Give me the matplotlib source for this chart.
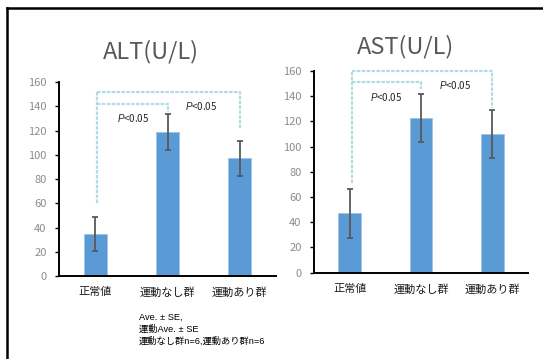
import matplotlib
matplotlib.use("Agg")
import matplotlib.pyplot as plt
from matplotlib.lines import Line2D


groups = ["正常値", "運動なし群", "運動あり群"]

alt_mean = [35, 119, 97]
alt_se = [14, 15, 14.5]

ast_mean = [47, 123, 110]
ast_se = [19.5, 19, 19]

# significance brackets: (bar index, bracket height, drop end) for each pair
alt_pairs = [(1, 142, 135), (2, 151.5, 122)]
alt_start = 60
ast_pairs = [(1, 151.5, 145.5), (2, 160, 131)]
ast_start = 71

p_label = "$P$<0.05"

plt.rcParams['font.family'] = ['Noto Sans CJK JP', 'DejaVu Sans']
plt.rcParams['mathtext.fontset'] = 'custom'
plt.rcParams['mathtext.it'] = 'Liberation Sans:italic'
plt.rcParams['mathtext.rm'] = 'Liberation Sans'

BAR = "#5b9bd5"
ERR = "#595959"
BRACKET = "#b2dce3"
W, H = 543, 359


def px_axes(fig, x0, y_top, x1, y_bottom):
    return fig.add_axes([x0 / W, 1 - y_bottom / H, (x1 - x0) / W, (y_bottom - y_top) / H])


def bar_panel(ax, title, means, errs, pairs, start, label_pos, title_xy):
    x = range(len(groups))
    ax.bar(x, means, width=0.32, color=BAR, edgecolor="#9dc3e6", linewidth=0.6, zorder=2)
    ax.errorbar(x, means, yerr=errs, fmt="none", ecolor=ERR, elinewidth=1.3,
                capsize=2, capthick=1.3, zorder=3)
    ax.set_xlim(-0.5, 2.5)
    ax.set_ylim(0, 160)
    ax.set_yticks(range(0, 161, 20))
    ax.set_xticks(list(x))
    ax.set_xticklabels(groups, fontsize=8, color="#1a1a1a")
    ax.tick_params(axis="x", length=0, pad=8)
    ax.tick_params(axis="y", length=3, width=1, direction="out", labelsize=8,
                   labelcolor="#8c8c8c", pad=6)
    for s in ("top", "right"):
        ax.spines[s].set_visible(False)
    for s in ("left", "bottom"):
        ax.spines[s].set_linewidth(1.4)
        ax.spines[s].set_color("black")

    # dashed brackets from the control bar to each group
    x0 = 0.03
    top = max(p[1] for p in pairs)
    dash = (0, (1.6, 0.6))
    ax.plot([x0, x0], [start, top], color=BRACKET, lw=1.6, ls=dash,
            clip_on=False, zorder=1)
    for idx, level, end in pairs:
        ax.plot([x0, idx, idx], [level, level, end], color=BRACKET, lw=1.6,
                ls=dash, clip_on=False, zorder=1)
    for lx, ly in label_pos:
        ax.text(lx, ly, p_label, fontsize=7, ha="center", va="center", color="#262626")

    ax.text(title_xy[0], title_xy[1], title, transform=ax.figure.transFigure,
            fontsize=17, color="#595959", ha="center", va="center")


fig = plt.figure(figsize=(W / 100, H / 100), dpi=100)

ax1 = px_axes(fig, 59, 82, 276, 276)
bar_panel(ax1, "ALT(U/L)", alt_mean, alt_se, alt_pairs, alt_start,
          [(0.52, 130), (1.47, 140)], (151 / W, 1 - 52 / H))

ax2 = px_axes(fig, 314, 71, 528, 272.7)
bar_panel(ax2, "AST(U/L)", ast_mean, ast_se, ast_pairs, ast_start,
          [(0.51, 139), (1.48, 149)], (406 / W, 1 - 47 / H))

# outer frame
fig.add_artist(Line2D([7 / W, 7 / W], [0, 1 - 8 / H], color="black", lw=1.8))
fig.add_artist(Line2D([7 / W, 1], [1 - 8 / H, 1 - 8 / H], color="black", lw=1.8))

note = "Ave. ± SE,\n運動Ave. ± SE\n運動なし群n=6,運動あり群n=6"
fig.text(139 / W, 1 - 313 / H, note, fontsize=6.7, va="top", ha="left",
         family=['Liberation Sans', 'Noto Sans CJK JP'], linespacing=1.4)

fig.savefig("out.png", dpi=100)
